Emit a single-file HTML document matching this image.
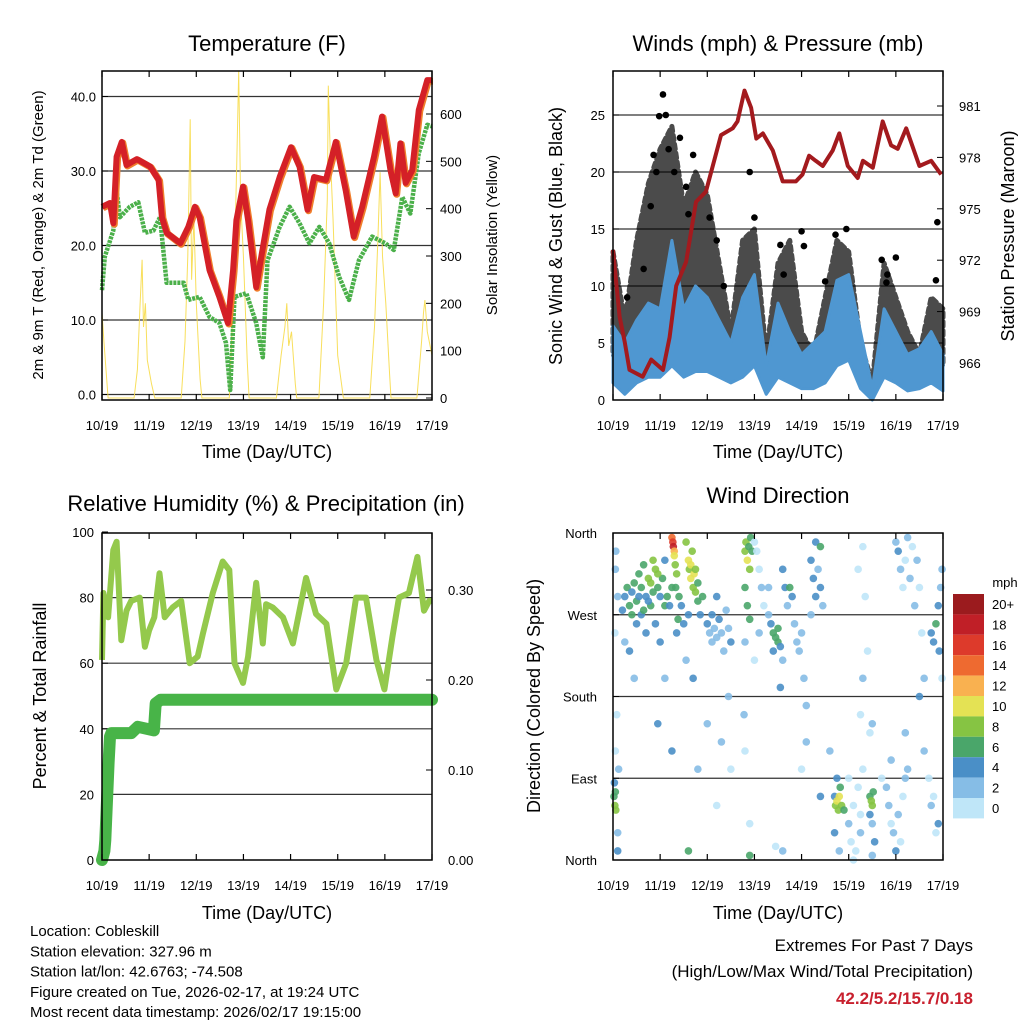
<!DOCTYPE html>
<html><head><meta charset="utf-8"><style>
body{margin:0;background:#fff}
svg{display:block;font-family:"Liberation Sans",sans-serif}
</style></head><body>
<svg id="c" width="1024" height="1024" viewBox="0 0 1024 1024" xmlns="http://www.w3.org/2000/svg"></svg>
<script>
// ---------- DATA ----------
const dayLabels=["10/19","11/19","12/19","13/19","14/19","15/19","16/19","17/19"];
const tempT=[0,0.17,0.24,0.31,0.42,0.52,0.74,1.02,1.2,1.27,1.37,1.66,1.83,1.97,2.07,2.28,2.49,2.67,2.78,2.85,2.99,3.1,3.27,3.38,3.55,3.77,4.01,4.19,4.36,4.5,4.75,4.96,5.17,5.34,5.52,5.77,5.94,6.12,6.23,6.33,6.44,6.58,6.72,6.9,7];
const tempV=[25.2,25.7,23,31.9,33.9,30.8,31.6,30.6,28.8,23.8,21.7,20.3,22.5,25.2,23.8,16.7,13.1,9.6,16.7,23.4,27.9,23.4,14.4,18.5,24.8,29.2,33.2,30.6,24.8,29.2,28.8,33.9,27.4,21.2,25.2,31.9,37.3,30.1,27,33.7,28.4,30.1,38.2,42.2,42.2];
const dewT=[0,0.06,0.24,0.31,0.38,0.59,0.77,0.91,1.09,1.23,1.37,1.73,1.83,2.07,2.28,2.49,2.63,2.72,2.81,3.06,3.27,3.41,3.51,3.77,3.98,4.19,4.4,4.61,4.82,5.03,5.24,5.45,5.73,6.01,6.19,6.37,6.54,6.72,6.9,7];
const dewV=[14,18.5,22,27.4,23.8,25.2,25.8,21.7,22,23.8,15,15,12.7,13.1,10.4,9.6,6.9,0.6,13.1,13.6,9.6,5,18,22.5,25.2,23,20.3,22.5,20.3,15.8,12.7,18,21.2,20.3,19.4,26.5,24.3,32.4,36.2,36];
const solarT=[0,0.04,0.1,0.13,0.68,0.75,0.8,0.85,0.88,0.92,0.96,1.05,1.12,1.68,1.76,1.82,1.87,1.9,1.95,2.0,2.08,2.12,2.7,2.8,2.86,2.9,2.94,3.0,3.08,3.12,3.7,3.8,3.88,3.92,3.96,4.02,4.1,4.13,4.6,4.7,4.78,4.8,4.84,4.9,5.0,5.12,5.68,5.78,5.85,5.9,5.95,6.02,6.1,6.13,6.68,6.78,6.82,6.85,6.9,6.96,7];
const solarV=[180,120,40,0,0,60,180,292,150,200,80,30,0,0,120,300,589,250,380,200,40,0,0,250,500,690,420,300,80,0,0,90,150,200,110,140,30,0,0,200,420,660,520,380,90,0,0,150,330,477,300,200,50,0,0,120,180,207,140,110,90];
const windT=[0,0.25,0.5,0.75,1,1.25,1.5,1.75,2,2.25,2.5,2.75,3,3.25,3.5,3.75,4,4.25,4.5,4.75,5,5.25,5.5,5.75,6,6.25,6.5,6.75,7];
const windHi=[6.5,5,7,8.5,8,14,8,10,9,7,5,9,11,3,8.5,6,4,5,6,10.5,11,6,1,8,6,4,4.5,6,4];
const windLo=[1.5,0.5,1.5,2,2,3,2,2.5,2.5,2,1.5,2,3,0.5,2,1.5,1,1,1.5,3,3.5,1,0,2,1.5,0.8,1,1.5,0.8];
const gustHi=[13,7,14,19,22,24,17,20,18,12,6,14,15,4,12,14,6,4,9,14,13,5,1.5,12,9,6,4,9,8];
const gustLo=[4,2,4,6,8,9,6,7,6,4,3,5,6,2,5,6,3,2,4,7,6,2,0.5,6,4,2.5,2,4,3];
const gustDots=[[1.06,26.8],[0.98,24.9],[0.92,20],[1.18,22],[1.55,18.7],[1.6,16.3],[0.65,11.5],[2.9,20],[3.55,13.6],[4.0,14.8],[4.05,13.5],[4.5,10.4],[5.8,10.3],[6.88,15.6],[6.85,10.5],[6.0,12.5],[2.2,14],[0.3,9],[1.3,20],[1.42,23],[0.8,17],[1.7,21.5],[2.05,16],[2.35,10],[3.0,16],[3.62,11],[4.72,14.5],[4.95,15],[5.7,12.3],[5.82,11],[1.12,25],[0.86,21.5]];
const presT=[0,0.14,0.25,0.35,0.63,0.81,1.06,1.2,1.34,1.55,1.76,1.97,2.29,2.54,2.64,2.79,2.93,3.04,3.18,3.39,3.6,3.88,4.02,4.16,4.3,4.45,4.66,4.8,4.98,5.19,5.3,5.51,5.72,5.9,6.04,6.22,6.5,6.75,6.96];
const presV=[972.6,968.7,967.2,965.6,965.2,966.2,965.6,967.5,970.5,971.9,975.4,976,979.3,979.7,980.1,981.9,980.9,979.1,979.4,978.4,976.6,976.6,977,978.1,977.8,977.5,978.4,979.4,977.5,976.8,977.8,977.4,980.1,978.7,978.5,979.7,977.5,977.8,977];
const rhT=[0,0.03,0.13,0.24,0.31,0.41,0.52,0.62,0.8,0.91,1.0,1.11,1.22,1.33,1.5,1.68,1.86,2.03,2.14,2.35,2.56,2.7,2.81,2.99,3.1,3.27,3.41,3.48,3.62,3.84,4.05,4.33,4.54,4.76,4.97,5.18,5.39,5.6,5.82,5.99,6.16,6.3,6.51,6.69,6.83,6.94,7];
const rhV=[61,81.4,74,94.5,97,67,76,79,80,65,70,74,87.4,74,77,79,60,62,69,81.4,91,88.4,60,54,62,84.5,66,78,77,74,66,86,75,72,52,60,80,80,61,52,68,80,81.4,92.4,76,79,79];
const rainT=[0,0.05,0.07,0.14,0.17,0.2,0.62,0.76,1.1,1.14,1.24,7];
const rainV=[0,0.01,0.022,0.108,0.137,0.141,0.141,0.148,0.144,0.174,0.178,0.178];
const dirPts=[[0.02,70,7],[0.04,60,8],[0.05,75,6],[0.03,85,4],[0.06,55,8],[0.1,30,3],[0.1,10,4],[0.12,100,2],[0.05,120,1],[0.08,160,1],[0.04,250,1],[0.06,340,2],[0.05,320,3],[0.1,290,3],[0.2,275,4],[0.25,290,5],[0.3,300,6],[0.35,280,6],[0.4,295,5],[0.45,305,7],[0.5,285,6],[0.5,260,5],[0.55,315,7],[0.6,300,6],[0.6,270,4],[0.65,325,7],[0.7,290,5],[0.7,250,4],[0.75,310,8],[0.8,305,9],[0.8,280,6],[0.85,295,7],[0.9,320,8],[0.9,260,5],[0.95,300,6],[1.0,290,5],[1.0,240,4],[1.05,310,7],[1.1,280,6],[1.1,330,5],[1.15,290,7],[0.45,200,3],[0.35,230,4],[0.25,240,2],[0.55,290,4],[0.65,275,7],[0.75,285,4],[0.4,270,6],[0.95,315,9],[0.85,330,8],
[1.25,355,14],[1.27,350,16],[1.28,345,18],[1.3,340,12],[1.3,335,11],[1.32,325,9],[1.35,315,8],[1.33,300,7],[1.4,290,6],[1.45,280,5],[1.38,265,6],[1.35,250,4],[1.25,300,7],[1.2,280,5],
[1.6,330,10],[1.62,320,9],[1.65,310,10],[1.7,300,9],[1.72,315,11],[1.75,295,8],[1.68,340,8],[1.8,305,7],[1.8,285,6],[1.85,270,5],[1.9,290,6],[1.55,350,8],[1.6,270,5],[1.5,260,4],[1.55,220,3],[1.7,200,4],[1.65,325,11],[1.75,320,8],
[2.0,260,4],[2.05,250,3],[2.1,240,3],[2.1,270,4],[2.15,255,2],[2.2,245,3],[2.25,265,4],[2.3,250,3],[2.35,230,2],[2.2,290,4],[2.4,275,3],[2.45,255,2],[2.5,240,4],[2.45,180,2],[2.3,130,3],[2.0,150,2],[2.5,100,1],
[2.8,340,8],[2.82,350,9],[2.85,330,10],[2.88,345,7],[2.9,320,8],[2.92,355,6],[2.8,300,7],[2.85,280,7],[2.9,265,6],[2.95,340,6],[2.8,240,3],[2.78,160,2],[2.8,120,1],[3.0,350,1],[3.05,340,1],[3.1,320,1],[3.15,300,2],[3.2,280,1],[3.1,250,2],[3.0,220,1],
[3.35,260,5],[3.4,250,6],[3.45,245,7],[3.5,255,6],[3.5,240,6],[3.55,235,5],[3.4,230,4],[3.3,270,3],[3.3,300,2],[3.6,220,3],[3.55,190,4],
[3.6,320,4],[3.65,300,4],[3.7,280,3],[3.75,300,6],[3.8,290,4],[3.85,260,3],[3.9,240,2],[3.95,230,3],[4.0,250,2],[4.05,200,2],[4.1,170,2],[4.1,130,2],
[4.2,330,4],[4.25,310,4],[4.3,290,4],[4.3,350,4],[4.35,320,3],[4.4,300,4],[4.4,345,6],[4.2,270,3],[4.45,280,3],
[4.7,70,5],[4.72,60,8],[4.75,65,10],[4.78,55,9],[4.8,70,10],[4.85,60,8],[4.9,55,7],[4.82,80,6],[4.7,30,4],[4.75,90,4],[4.8,10,2],[4.6,120,2],
[5.0,40,2],[5.05,20,1],[5.1,60,1],[5.1,0,1],[5.2,80,1],[5.15,10,1],[5.25,30,2],[5.0,90,1],[5.3,100,1],[5.25,50,0],
[5.45,70,7],[5.48,65,8],[5.5,60,8],[5.52,75,6],[5.45,50,4],[5.5,40,3],[5.55,20,4],[5.5,5,3],
[5.7,90,1],[5.8,80,2],[5.85,60,2],[5.9,40,1],[5.95,30,3],[6.0,10,4],[6.05,50,2],[6.1,20,1],[6.15,70,1],[6.2,90,2],[5.9,110,3],[6.2,140,2],[6.25,100,2],
[5.2,320,1],[5.3,345,1],[5.35,290,1],[5.4,230,1],[5.45,140,1],[5.3,200,2],[5.25,160,1],
[6.0,350,2],[6.05,340,4],[6.1,320,2],[6.15,300,1],[6.2,330,1],[6.25,355,2],[6.3,310,2],[6.35,345,1],[6.4,280,3],[6.45,330,2],[6.5,300,1],
[6.55,250,1],[6.6,120,2],[6.7,90,1],[6.75,60,2],[6.8,70,1],[6.85,30,1],[6.9,40,4],
[6.75,250,5],[6.8,240,4],[6.85,260,6],[6.9,280,4],[6.95,300,3],[6.92,230,4],[6.98,320,2],[6.98,200,1],
[0.95,150,4],[1.1,200,3],[1.25,120,4],[1.6,10,7],[1.8,100,3],[2.2,60,1],[2.9,5,6],[2.9,40,1],[3.45,15,1],[3.6,10,2],[4.0,100,1],[4.4,70,4],[5.5,150,2],[6.5,180,4],[6.6,200,2]];
const speedLabels=["20+","18","16","14","12","10","8","6","4","2","0"];
const speedColors=["#9b1b1e","#c01f27","#dd3a2b","#ee6a30","#f9b150","#e4e254","#86c443","#4aa66a","#4a8fc7","#86bde6","#bfe6f8"];

// ---------- HELPERS ----------
const svg=document.getElementById('c');
const NS="http://www.w3.org/2000/svg";
function mk(tag,attrs,parent){const e=document.createElementNS(NS,tag);for(const k in attrs)e.setAttribute(k,attrs[k]);(parent||svg).appendChild(e);return e;}
function txt(s,x,y,size,anchor,parent,extra){const e=mk('text',Object.assign({x:x,y:y,'font-size':size,'text-anchor':anchor||'middle',fill:'#000'},extra||{}),parent);e.textContent=s;return e;}
function lin(d0,d1,p0,p1){return v=>p0+(v-d0)/(d1-d0)*(p1-p0);}
function pathOf(ts,vs,sx,sy){return ts.map((t,i)=>(i?'L':'M')+sx(t).toFixed(1)+','+sy(vs[i]).toFixed(1)).join('');}

function frame(g,L,T,R,B,xs){
  mk('rect',{x:L,y:T,width:R-L,height:B-T,fill:'none',stroke:'#000','stroke-width':1.5},g);
  dayLabels.forEach((d,i)=>{const x=xs(i);
    mk('line',{x1:x,y1:B,x2:x,y2:B-6,stroke:'#000','stroke-width':1.2},g);
    mk('line',{x1:x,y1:T,x2:x,y2:T+6,stroke:'#000','stroke-width':1.2},g);
    const t=txt(d,x,B+30,13,'middle',g);
    
    
  });
}

// ---------- PANEL 1 TEMPERATURE ----------
(function(){
  const g=mk('g',{});  
  const L=102,T=71,R=432,B=400;
  const sx=lin(0,7,L,R), sy=lin(0,40,394.5,96.5), ss=lin(0,600,398,114);
  [0,10,20,30,40].forEach(v=>{mk('line',{x1:L,y1:sy(v),x2:R,y2:sy(v),stroke:'#333','stroke-width':1.2},g);
    mk('line',{x1:L,y1:sy(v),x2:L+6,y2:sy(v),stroke:'#000'},g);
    const t=txt(v.toFixed(1),L-6,sy(v)+5,13,'end',g);  });
  [0,100,200,300,400,500,600].forEach(v=>{mk('line',{x1:R,y1:ss(v),x2:R-6,y2:ss(v),stroke:'#000'},g);
    const t=txt(String(v),R+8,ss(v)+5,13,'start',g);  });
  const so=mk('path',{d:pathOf(solarT,solarV,sx,ss),fill:'none',stroke:'#f7dc4a','stroke-width':1,opacity:0.9},g);
   
  const dw=mk('path',{d:pathOf(dewT,dewV,sx,sy),fill:'none',stroke:'#4bb04a','stroke-width':4.5,'stroke-linejoin':'round','stroke-dasharray':'3 1'},g);
   
  const or=mk('path',{d:pathOf(tempT,tempV,sx,sy),fill:'none',stroke:'#f07f2c','stroke-width':7,'stroke-linejoin':'round',transform:'translate(1,1)'},g);
   
  const rd=mk('path',{d:pathOf(tempT,tempV,sx,sy),fill:'none',stroke:'#d42027','stroke-width':6,'stroke-linejoin':'round'},g);
   
  frame(g,L,T,R,B,lin(0,7,L,R));
  const ti=txt('Temperature (F)',267,51,22,'middle',g);  
  const xt=txt('Time (Day/UTC)',267,458,18,'middle',g);  
  const yl=txt('2m & 9m T (Red, Orange) & 2m Td (Green)',0,0,15,'middle',g,{transform:'translate(43,235) rotate(-90)'});  
  const yr=txt('Solar Insolation (Yellow)',0,0,15,'middle',g,{transform:'translate(497,235) rotate(-90)'});  
})();

// ---------- PANEL 2 WINDS ----------
(function(){
  const g=mk('g',{});  
  const L=613,T=71,R=943,B=400;
  const sx=lin(0,7,L,R), sy=lin(0,25,400,115), sp=lin(966,981,363,106);
  [5,10,15,20,25].forEach(v=>mk('line',{x1:L,y1:sy(v),x2:R,y2:sy(v),stroke:'#333','stroke-width':1.2},g));
  [0,5,10,15,20,25].forEach(v=>{mk('line',{x1:L,y1:sy(v),x2:L+6,y2:sy(v),stroke:'#000'},g);
    const t=txt(String(v),L-8,sy(v)+5,13,'end',g);  });
  [966,969,972,975,978,981].forEach(v=>{mk('line',{x1:R,y1:sp(v),x2:R-6,y2:sp(v),stroke:'#000'},g);
    const t=txt(String(v),R+16,sp(v)+5,13,'start',g);  });
  let d=pathOf(windT,gustHi,sx,sy)+windT.slice().reverse().map((t,i)=>'L'+sx(t)+','+sy(gustLo[gustLo.length-1-i])).join('')+'Z';
  const gb=mk('path',{d:d,fill:'#000',opacity:0.7,stroke:'#000','stroke-width':5,'stroke-dasharray':'5 4','stroke-linejoin':'round','stroke-linecap':'round'},g);
   
  gustDots.forEach(p=>{const c=mk('circle',{cx:sx(p[0]),cy:sy(p[1]),r:3.3,fill:'#000'},g);
    
    });
  d=pathOf(windT,windHi,sx,sy)+windT.slice().reverse().map((t,i)=>'L'+sx(t)+','+sy(windLo[windLo.length-1-i])).join('')+'Z';
  const wb=mk('path',{d:d,fill:'#4f97d1',stroke:'#4f97d1','stroke-width':3,'stroke-linejoin':'round'},g);
   
  const pr=mk('path',{d:pathOf(presT,presV,sx,sp),fill:'none',stroke:'#a31a1e','stroke-width':4,'stroke-linejoin':'round'},g);
   
  frame(g,L,T,R,B,lin(0,7,L,R));
  const ti=txt('Winds (mph) & Pressure (mb)',778,51,22,'middle',g);  
  const xt=txt('Time (Day/UTC)',778,458,18,'middle',g);  
  const yl=txt('Sonic Wind & Gust (Blue, Black)',0,0,18,'middle',g,{transform:'translate(562,236) rotate(-90)'});  
  const yr=txt('Station Pressure (Maroon)',0,0,18,'middle',g,{transform:'translate(1014,236) rotate(-90)'});  
})();

// ---------- PANEL 3 RH ----------
(function(){
  const g=mk('g',{});  
  const L=102,T=533,R=432,B=860;
  const sx=lin(0,7,L,R), sy=lin(0,100,860,532), sr=lin(0,0.3,860,590);
  [20,40,60,80].forEach(v=>mk('line',{x1:L,y1:sy(v),x2:R,y2:sy(v),stroke:'#333','stroke-width':1.2},g));
  [0,20,40,60,80,100].forEach(v=>{mk('line',{x1:L,y1:sy(v),x2:L+6,y2:sy(v),stroke:'#000'},g);
    const t=txt(String(v),L-8,sy(v)+5,13,'end',g);  });
  [0,0.1,0.2,0.3].forEach(v=>{mk('line',{x1:R,y1:sr(v),x2:R-6,y2:sr(v),stroke:'#000'},g);
    const t=txt(v.toFixed(2),R+16,sr(v)+5,13,'start',g);  });
  const rh=mk('path',{d:pathOf(rhT,rhV,sx,sy),fill:'none',stroke:'#94c94c','stroke-width':6,'stroke-linejoin':'round'},g);
   
  const rn=mk('path',{d:pathOf(rainT,rainV,sx,sr),fill:'none',stroke:'#48b448','stroke-width':12,'stroke-linejoin':'round','stroke-linecap':'round'},g);
   
  frame(g,L,T,R,B,lin(0,7,L,R));
  const ti=txt('Relative Humidity (%) & Precipitation (in)',266,511,22,'middle',g);  
  const xt=txt('Time (Day/UTC)',267,919,18,'middle',g);  
  const yl=txt('Percent & Total Rainfall',0,0,18,'middle',g,{transform:'translate(46,696) rotate(-90)'});  
})();

// ---------- PANEL 4 WIND DIRECTION ----------
(function(){
  const g=mk('g',{});  
  const L=613,T=533,R=943,B=860;
  const sx=lin(0,7,L,R), sy=lin(0,360,860,533);
  [90,180,270].forEach(v=>mk('line',{x1:L,y1:sy(v),x2:R,y2:sy(v),stroke:'#333','stroke-width':1.2},g));
  const dn=["North","East","South","West","North"];
  [0,90,180,270,360].forEach((v,i)=>{mk('line',{x1:L,y1:sy(v),x2:L+6,y2:sy(v),stroke:'#000'},g);
    const t=txt(dn[i],L-16,sy(v)+5,13,'end',g);  });
  function col(s){let i=Math.min(10,Math.floor(s/2));return speedColors[10-i];}
  dirPts.forEach(p=>{const c=mk('circle',{cx:sx(p[0]),cy:sy(p[1]),r:3.8,fill:col(p[2]),opacity:0.9},g);
    
    });
  frame(g,L,T,R,B,lin(0,7,L,R));
  const ti=txt('Wind Direction',778,503,22,'middle',g);  
  const xt=txt('Time (Day/UTC)',778,919,18,'middle',g);  
  const yl=txt('Direction (Colored By Speed)',0,0,18,'middle',g,{transform:'translate(540,696) rotate(-90)'});  
  const lg=mk('g',{},g);  
  const u=txt('mph',1005,587,13,'middle',lg);  
  speedColors.forEach((c,i)=>{const y=594+i*20.4;
    const r=mk('rect',{x:953,y:y,width:31,height:20.4,fill:c},lg);
    
    
    const t=txt(speedLabels[i],992,y+15,13,'start',lg);
    
    });
})();

// ---------- FOOTER ----------
(function(){
  const g=mk('g',{});  
  ["Location: Cobleskill","Station elevation: 327.96 m","Station lat/lon: 42.6763; -74.508","Figure created on Tue, 2026-02-17, at 19:24 UTC","Most recent data timestamp: 2026/02/17 19:15:00"].forEach((s,i)=>{
    const t=txt(s,30,936+i*20.3,15,'start',g);
    
    });
  const h=mk('g',{});  
  const a=txt('Extremes For Past 7 Days',973,951,17,'end',h);  
  const b=txt('(High/Low/Max Wind/Total Precipitation)',973,977,17,'end',h);  
  const c=txt('42.2/5.2/15.7/0.18',973,1004,17,'end',h,{fill:'#c8202e','font-weight':'bold'});  
})();
</script>
</body></html>
